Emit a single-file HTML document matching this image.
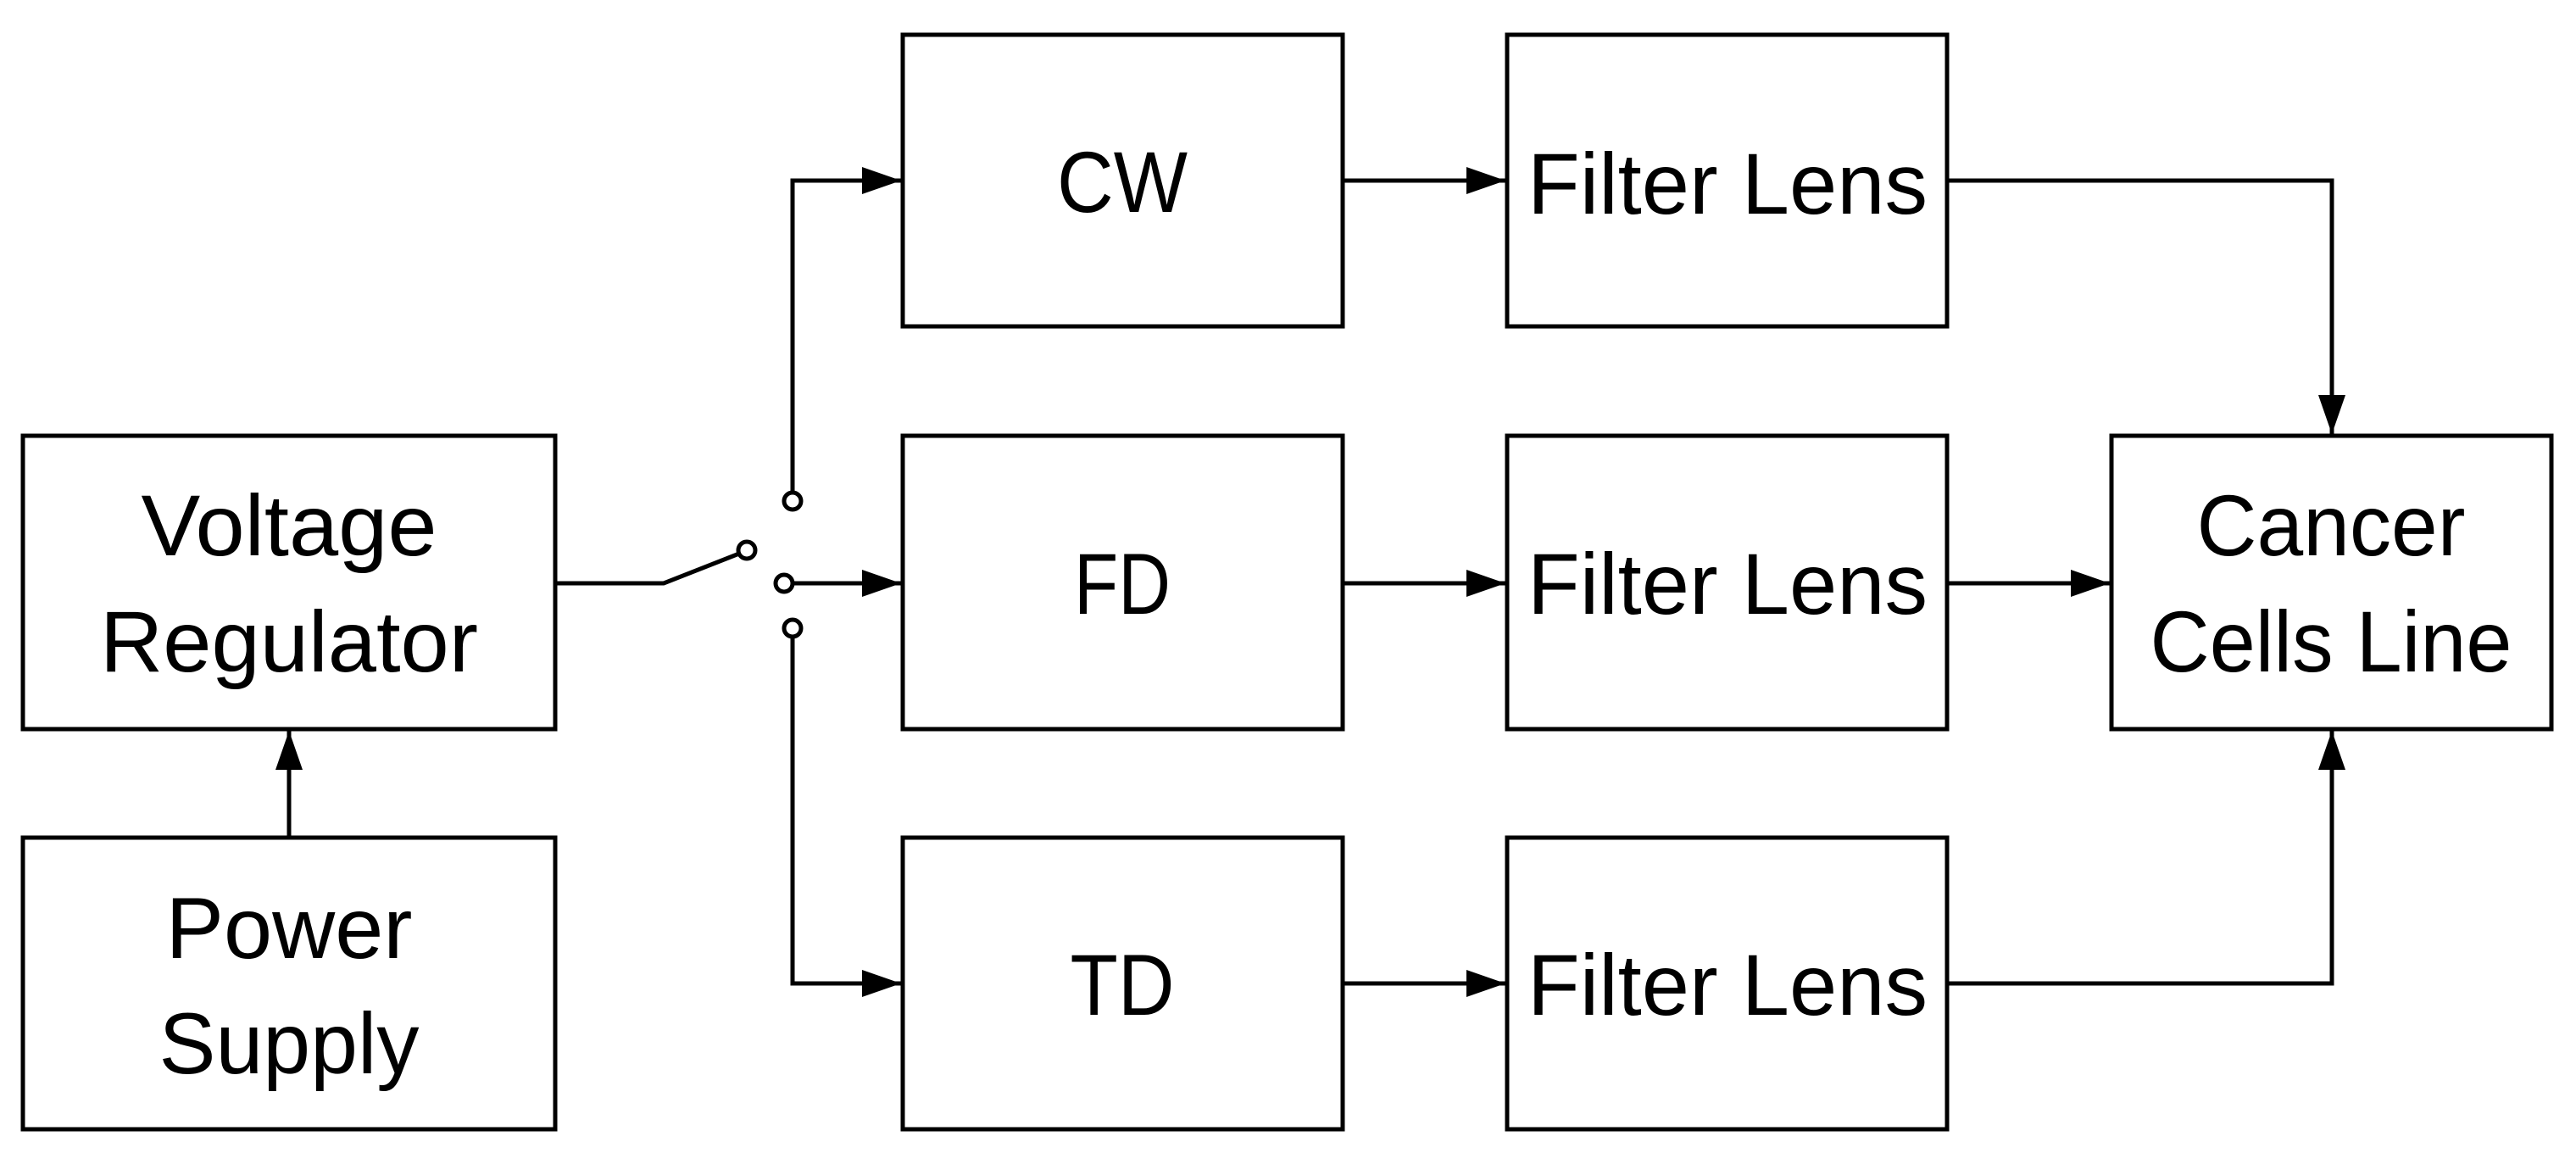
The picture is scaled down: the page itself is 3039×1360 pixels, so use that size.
<!DOCTYPE html>
<html><head><style>html,body{margin:0;padding:0;background:#fff}svg{display:block}</style></head><body>
<svg width="3039" height="1360" viewBox="0 0 3039 1360" xmlns="http://www.w3.org/2000/svg">
<defs><marker id="a" markerUnits="userSpaceOnUse" markerWidth="48" markerHeight="34" refX="46" refY="16" orient="auto"><path d="M0,0 L46,16 L0,32 Z" fill="#000"/></marker></defs>
<g fill="none" stroke="#000" stroke-width="5">
<rect x="27" y="514" width="628" height="346"/>
<rect x="27" y="988" width="628" height="344"/>
<rect x="1065" y="41" width="519" height="344"/>
<rect x="1065" y="514" width="519" height="346"/>
<rect x="1065" y="988" width="519" height="344"/>
<rect x="1778" y="41" width="519" height="344"/>
<rect x="1778" y="514" width="519" height="346"/>
<rect x="1778" y="988" width="519" height="344"/>
<rect x="2491" y="514" width="519" height="346"/>
<line x1="341" y1="988" x2="341" y2="862" marker-end="url(#a)"/>
<polyline points="655,688 783,688 872,653"/>
<circle cx="881" cy="649" r="10"/>
<circle cx="935" cy="591" r="10"/>
<circle cx="925" cy="688" r="10"/>
<circle cx="935" cy="741" r="10"/>
<polyline points="935,581 935,213 1063,213" marker-end="url(#a)"/>
<line x1="935" y1="688" x2="1063" y2="688" marker-end="url(#a)"/>
<polyline points="935,751 935,1160 1063,1160" marker-end="url(#a)"/>
<line x1="1584" y1="213" x2="1776" y2="213" marker-end="url(#a)"/>
<line x1="1584" y1="688" x2="1776" y2="688" marker-end="url(#a)"/>
<line x1="1584" y1="1160" x2="1776" y2="1160" marker-end="url(#a)"/>
<polyline points="2297,213 2751,213 2751,512" marker-end="url(#a)"/>
<line x1="2297" y1="688" x2="2489" y2="688" marker-end="url(#a)"/>
<polyline points="2297,1160 2751,1160 2751,862" marker-end="url(#a)"/>
</g>
<g font-family="Liberation Sans, sans-serif" font-size="102" fill="#000" text-anchor="middle">
<text x="341" y="655" textLength="349" lengthAdjust="spacingAndGlyphs">Voltage</text>
<text x="341" y="792" textLength="446" lengthAdjust="spacingAndGlyphs">Regulator</text>
<text x="341" y="1130" textLength="291" lengthAdjust="spacingAndGlyphs">Power</text>
<text x="341" y="1266" textLength="307" lengthAdjust="spacingAndGlyphs">Supply</text>
<text x="1324" y="250" textLength="154" lengthAdjust="spacingAndGlyphs">CW</text>
<text x="1324" y="724" textLength="114" lengthAdjust="spacingAndGlyphs">FD</text>
<text x="1324" y="1197" textLength="123" lengthAdjust="spacingAndGlyphs">TD</text>
<text x="2038" y="252" textLength="472" lengthAdjust="spacingAndGlyphs">Filter Lens</text>
<text x="2038" y="724" textLength="472" lengthAdjust="spacingAndGlyphs">Filter Lens</text>
<text x="2038" y="1197" textLength="472" lengthAdjust="spacingAndGlyphs">Filter Lens</text>
<text x="2750" y="655" textLength="317" lengthAdjust="spacingAndGlyphs">Cancer</text>
<text x="2750" y="792" textLength="427" lengthAdjust="spacingAndGlyphs">Cells Line</text>
</g>
</svg>
</body></html>
